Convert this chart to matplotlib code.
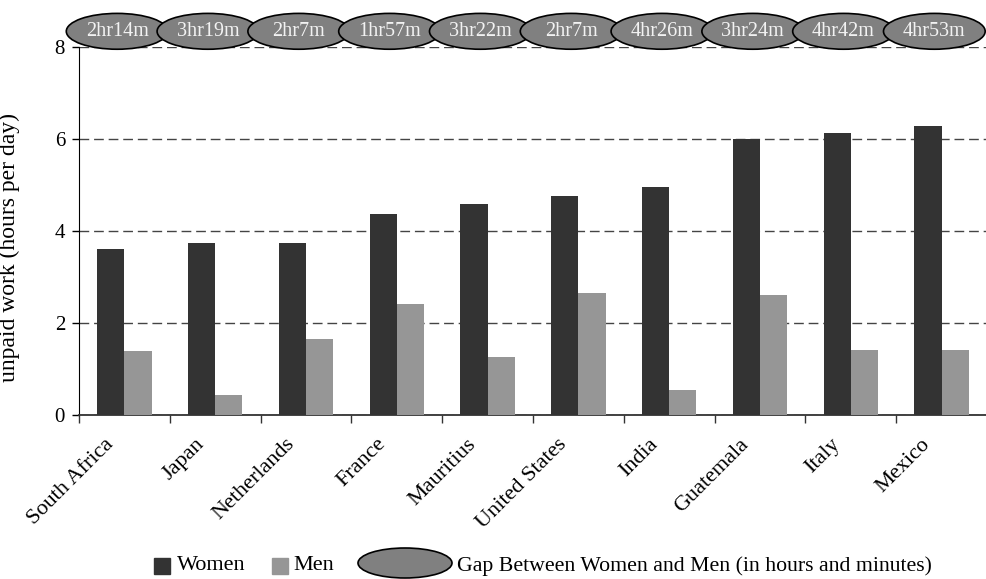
import matplotlib
matplotlib.use('Agg')
import matplotlib.pyplot as plt
from matplotlib.patches import Ellipse, Rectangle
import matplotlib.transforms as mtransforms
import numpy as np

countries = ["South Africa", "Japan", "Netherlands", "France", "Mauritius",
             "United States", "India", "Guatemala", "Italy", "Mexico"]
women = [3.61, 3.74, 3.74, 4.37, 4.59, 4.77, 4.96, 6.00, 6.14, 6.29]
men = [1.39, 0.44, 1.65, 2.42, 1.26, 2.65, 0.54, 2.62, 1.41, 1.41]
gap_labels = ["2hr14m", "3hr19m", "2hr7m", "1hr57m", "3hr22m",
              "2hr7m", "4hr26m", "3hr24m", "4hr42m", "4hr53m"]
yticks = [0, 2, 4, 6, 8]

plt.rcParams['font.family'] = ['Liberation Serif', 'DejaVu Serif']

W, H = 987, 579
fig = plt.figure(figsize=(W / 100, H / 100), dpi=100)
ax = fig.add_axes([79 / W, 1 - 415 / H, 1 - 79 / W, (415 - 47.4) / H])

x = np.arange(len(countries))
ax.bar(x - 0.15, women, 0.3, color='#333333', zorder=3)
ax.bar(x + 0.15, men, 0.3, color='#969696', zorder=3)
ax.set_xlim(-0.5, 9.5)
ax.set_ylim(0, 8)
ax.set_yticks(yticks)
ax.yaxis.grid(True, color='#444444', lw=1, ls=(0, (7, 3.5)), zorder=1)
ax.set_axisbelow(True)

for s in ['top', 'right']:
    ax.spines[s].set_visible(False)
ax.spines['left'].set_color('black')
ax.spines['bottom'].set_color('#333333')
ax.spines['bottom'].set_linewidth(1.3)

ax.tick_params(axis='y', labelsize=15, length=5, width=1, pad=5)
ax.set_xticks(x)
ax.set_xticklabels(countries, rotation=45, ha='right', va='center',
                   rotation_mode='anchor', fontsize=16)
ax.set_xticks(np.arange(-0.5, 10, 1), minor=True)
ax.tick_params(axis='x', which='major', length=0, pad=19)
ax.tick_params(axis='x', which='minor', length=6, width=1, color='#333333')
off = mtransforms.ScaledTranslation(-14 / 100, 0, fig.dpi_scale_trans)
for lbl in ax.get_xticklabels():
    lbl.set_transform(lbl.get_transform() + off)

ax.set_ylabel('unpaid work (hours per day)', fontsize=17)
ax.yaxis.set_label_coords((20 - 79) / 908, 0.455)

for i, g in enumerate(gap_labels):
    e = Ellipse((i - 0.08, 8.35), 1.12, 0.78, facecolor='#808080',
                edgecolor='black', lw=1.2, clip_on=False, zorder=10 + i)
    ax.add_patch(e)
    ax.text(i - 0.08, 8.35, g, ha='center', va='center', color='#f2f2f2',
            fontsize=14.5, zorder=10 + i, clip_on=False)

# legend
def fx(px):
    return px / W

def fy(py):
    return 1 - py / H

fig.add_artist(Rectangle((fx(154), fy(574)), 16 / W, 16 / H,
                         transform=fig.transFigure, color='#333333'))
fig.text(fx(177), fy(566), 'Women', va='center', ha='left', fontsize=16)
fig.add_artist(Rectangle((fx(272), fy(574)), 16 / W, 16 / H,
                         transform=fig.transFigure, color='#969696'))
fig.text(fx(293), fy(566), 'Men', va='center', ha='left', fontsize=16)
fig.add_artist(Ellipse((fx(405), fy(563)), 94 / W, 30 / H,
                       transform=fig.transFigure, facecolor='#808080',
                       edgecolor='black', lw=1.2))
fig.text(fx(457), fy(566), 'Gap Between Women and Men (in hours and minutes)',
         va='center', ha='left', fontsize=15.7)

fig.savefig('out.png', dpi=100)
